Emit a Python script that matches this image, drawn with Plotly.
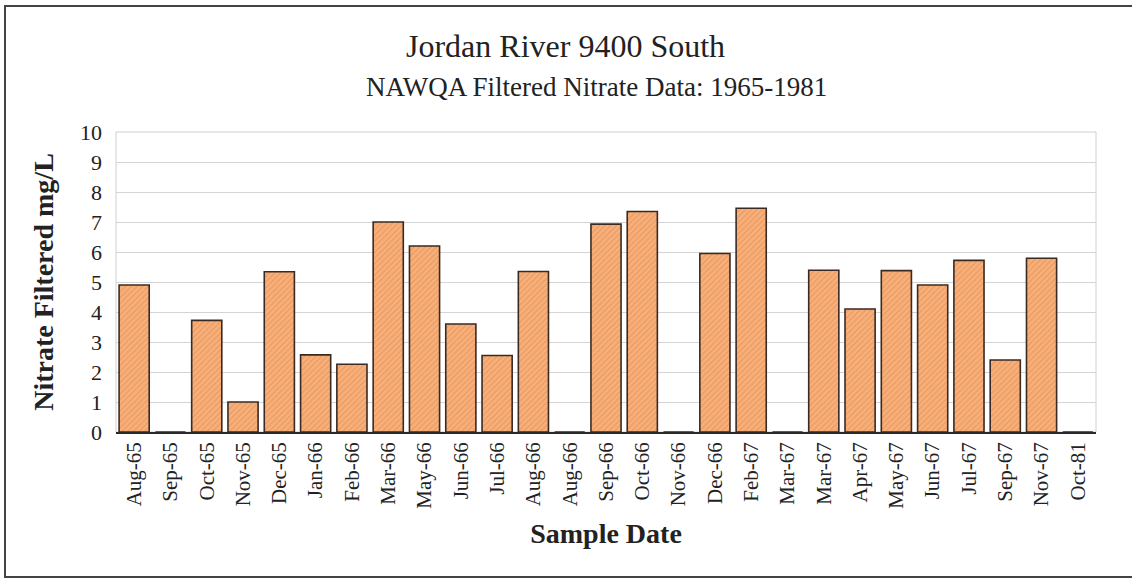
import plotly.graph_objects as go

# ---- data ----
dates = ["Aug-65", "Sep-65", "Oct-65", "Nov-65", "Dec-65", "Jan-66", "Feb-66",
         "Mar-66", "May-66", "Jun-66", "Jul-66", "Aug-66", "Aug-66", "Sep-66",
         "Oct-66", "Nov-66", "Dec-66", "Feb-67", "Mar-67", "Mar-67", "Apr-67",
         "May-67", "Jun-67", "Jul-67", "Sep-67", "Nov-67", "Oct-81"]
nitrate = [4.9, 0.0, 3.72, 1.0, 5.34, 2.57, 2.26,
           7.0, 6.2, 3.6, 2.55, 5.35, 0.0, 6.93,
           7.35, 0.0, 5.95, 7.46, 0.0, 5.39, 4.1,
           5.38, 4.9, 5.72, 2.4, 5.79, 0.0]
y_ticks = list(range(0, 11))

positions = list(range(len(dates)))

SERIF = "Liberation Serif"
W, H = 1132, 584
L, R, T, B = 116, 36, 132, 152
pw, ph = W - L - R, H - T - B

fig = go.Figure()
fig.add_trace(go.Bar(
    x=positions,
    y=nitrate,
    marker=dict(
        color="#F3A266",
        line=dict(color="#3b2a22", width=1.6),
        pattern=dict(shape="/", fgcolor="#D9783E", bgcolor="#F7B07A",
                     size=4, solidity=0.25),
    ),
    hoverinfo="x+y",
))

def px_to_paper_x(px):
    return (px - L) / pw

def px_to_paper_y(py):
    return (H - B - py) / ph

shapes = [
    # plot area border (light)
    dict(type="rect", xref="paper", yref="paper", x0=0, y0=0, x1=1, y1=1,
         line=dict(color="#d0d0d0", width=1), layer="below"),
    # outer chart frame (right edge falls outside the picture)
    dict(type="rect", xref="paper", yref="paper",
         x0=px_to_paper_x(5), x1=px_to_paper_x(1140),
         y0=px_to_paper_y(577), y1=px_to_paper_y(6),
         line=dict(color="#444444", width=2)),
]

annotations = [
    dict(text="Jordan River 9400 South", xref="paper", yref="paper",
         x=px_to_paper_x(565), y=px_to_paper_y(46), xanchor="center", yanchor="middle",
         showarrow=False, font=dict(family=SERIF, size=32, color="#222222")),
    dict(text="NAWQA Filtered Nitrate Data: 1965-1981", xref="paper", yref="paper",
         x=px_to_paper_x(596), y=px_to_paper_y(87), xanchor="center", yanchor="middle",
         showarrow=False, font=dict(family=SERIF, size=27, color="#222222")),
]

fig.update_layout(
    width=W, height=H,
    margin=dict(l=L, r=R, t=T, b=B, autoexpand=False),
    paper_bgcolor="white",
    plot_bgcolor="white",
    bargap=0.17,
    showlegend=False,
    shapes=shapes,
    annotations=annotations,
    font=dict(family=SERIF, color="#222222"),
)

fig.update_xaxes(
    tickmode="array", tickvals=positions, ticktext=dates,
    tickangle=-90, range=[-0.5, len(dates) - 0.5],
    showline=True, linecolor="#2a2a2a", linewidth=1.5,
    ticks="", showgrid=False,
    tickfont=dict(family=SERIF, size=21, color="#222222"),
    title=dict(text="<b>Sample Date</b>", standoff=16,
               font=dict(family=SERIF, size=28, color="#222222")),
)

fig.update_yaxes(
    range=[0, 10], tickmode="array", tickvals=y_ticks,
    showline=False, ticks="", zeroline=False,
    showgrid=True, gridcolor="#d4d4d4", gridwidth=1,
    tickfont=dict(family=SERIF, size=22, color="#222222"),
    ticklabelstandoff=13,
    title=dict(text="<b>Nitrate Filtered mg/L</b>", standoff=18,
               font=dict(family=SERIF, size=28, color="#222222")),
)

fig.write_html("out.html",
               config={"displayModeBar": False},
               post_script="document.body.style.margin='0px';document.body.style.padding='0px';")
